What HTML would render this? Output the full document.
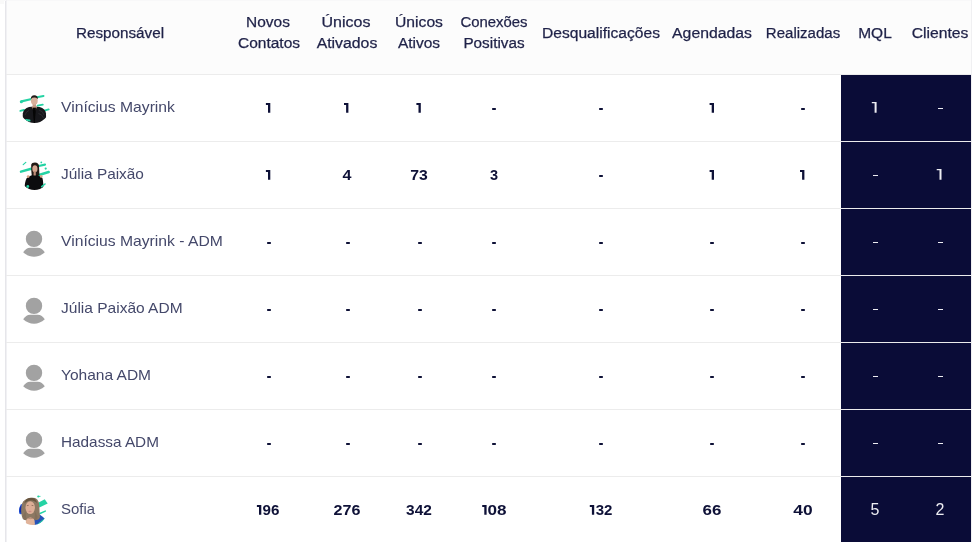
<!DOCTYPE html><html><head><meta charset="utf-8"><style>
html,body{margin:0;padding:0;width:972px;height:542px;overflow:hidden;background:#fff;}
body{position:relative;font-family:"Liberation Sans",sans-serif;}
.h,.n,.v,.w{will-change:transform;}
.a{position:absolute;}
.h{position:absolute;color:#1f2248;-webkit-text-stroke:0.25px #1f2248;font-size:14px;line-height:21px;white-space:nowrap;text-align:center;width:200px;}
.n{position:absolute;color:#44486a;font-size:15px;line-height:20px;white-space:nowrap;transform-origin:0 50%;}
.v{position:absolute;color:#0e1137;font-size:14px;font-weight:bold;line-height:20px;white-space:nowrap;text-align:center;width:60px;}
.w{position:absolute;color:#ededf2;font-size:16px;line-height:20px;white-space:nowrap;text-align:center;width:60px;}
</style></head><body>
<div class="a" style="left:6px;top:0;width:966px;height:74px;background:#fcfcfc"></div><div class="a" style="left:841px;top:75px;width:130px;height:467px;background:#0a0c37"></div><div class="a" style="left:5px;top:0;width:1px;height:542px;background:#e6e6ea"></div><div class="a" style="left:0;top:0;width:972px;height:1px;background:#f8f8f9"></div><div class="a" style="left:0;top:0;width:4px;height:4px;background:#f9f9f9"></div><div class="a" style="left:6px;top:0;width:1px;height:542px;background:#f1f1f4"></div><div class="a" style="left:971px;top:0;width:1px;height:542px;background:#f0f0f2"></div><div class="a" style="left:6px;top:74px;width:965px;height:1px;background:#ececec"></div><div class="a" style="left:6px;top:141px;width:965px;height:1px;background:#ececec"></div><div class="a" style="left:6px;top:208px;width:965px;height:1px;background:#ececec"></div><div class="a" style="left:6px;top:275px;width:965px;height:1px;background:#ececec"></div><div class="a" style="left:6px;top:342px;width:965px;height:1px;background:#ececec"></div><div class="a" style="left:6px;top:409px;width:965px;height:1px;background:#ececec"></div><div class="a" style="left:6px;top:476px;width:965px;height:1px;background:#ececec"></div><div class="h" id="h0" style="left:20.40px;top:23px;transform:scaleX(1.0876)">Responsável</div><div class="h" id="h1a" style="left:167.85px;top:12px;transform:scaleX(1.1041)">Novos</div><div class="h" id="h1b" style="left:169.00px;top:33px;transform:scaleX(1.1076)">Contatos</div><div class="h" id="h2a" style="left:246.35px;top:12px;transform:scaleX(1.1434)">Únicos</div><div class="h" id="h2b" style="left:246.50px;top:33px;transform:scaleX(1.1299)">Ativados</div><div class="h" id="h3a" style="left:319.05px;top:12px;transform:scaleX(1.1193)">Únicos</div><div class="h" id="h3b" style="left:319.05px;top:33px;transform:scaleX(1.1059)">Ativos</div><div class="h" id="h4a" style="left:393.55px;top:12px;transform:scaleX(1.0640)">Conexões</div><div class="h" id="h4b" style="left:394.25px;top:33px;transform:scaleX(1.0910)">Positivas</div><div class="h" id="h5" style="left:501.45px;top:23px;transform:scaleX(1.1143)">Desqualificações</div><div class="h" id="h6" style="left:612.00px;top:23px;transform:scaleX(1.1269)">Agendadas</div><div class="h" id="h7" style="left:702.85px;top:23px;transform:scaleX(1.0737)">Realizadas</div><div class="h" id="h8" style="left:774.80px;top:23px;transform:scaleX(1.1068)">MQL</div><div class="h" id="h9" style="left:840.15px;top:23px;transform:scaleX(1.1207)">Clientes</div><div class="n" id="n0" style="left:61.00px;top:97px;transform:scaleX(1.0459)">Vinícius Mayrink</div><div class="a" style="left:492px;top:108px;width:4px;height:2px;border-radius:0.8px;background:#0e1137"></div><div class="a" style="left:599px;top:108px;width:4px;height:2px;border-radius:0.8px;background:#0e1137"></div><div class="a" style="left:801px;top:108px;width:4px;height:2px;border-radius:0.8px;background:#0e1137"></div><div class="a" style="left:938px;top:108px;width:5px;height:1px;background:#ededf2"></div><div class="n" id="n1" style="left:61.00px;top:164px;transform:scaleX(1.0250)">Júlia Paixão</div><div class="v" style="left:317.00px;top:165px;transform:scaleX(1.1486)">4</div><div class="v" style="left:389.20px;top:165px;transform:scaleX(1.1262)">73</div><div class="v" style="left:464.30px;top:165px;transform:scaleX(1.0385)">3</div><div class="a" style="left:599px;top:175px;width:4px;height:2px;border-radius:0.8px;background:#0e1137"></div><div class="a" style="left:873px;top:175px;width:5px;height:1px;background:#ededf2"></div><div class="n" id="n2" style="left:61.00px;top:231px;transform:scaleX(1.0455)">Vinícius Mayrink - ADM</div><div class="a" style="left:267px;top:242px;width:4px;height:2px;border-radius:0.8px;background:#0e1137"></div><div class="a" style="left:346px;top:242px;width:4px;height:2px;border-radius:0.8px;background:#0e1137"></div><div class="a" style="left:418px;top:242px;width:4px;height:2px;border-radius:0.8px;background:#0e1137"></div><div class="a" style="left:492px;top:242px;width:4px;height:2px;border-radius:0.8px;background:#0e1137"></div><div class="a" style="left:599px;top:242px;width:4px;height:2px;border-radius:0.8px;background:#0e1137"></div><div class="a" style="left:710px;top:242px;width:4px;height:2px;border-radius:0.8px;background:#0e1137"></div><div class="a" style="left:801px;top:242px;width:4px;height:2px;border-radius:0.8px;background:#0e1137"></div><div class="a" style="left:873px;top:242px;width:5px;height:1px;background:#ededf2"></div><div class="a" style="left:938px;top:242px;width:5px;height:1px;background:#ededf2"></div><div class="n" id="n3" style="left:61.00px;top:298px;transform:scaleX(1.0343)">Júlia Paixão ADM</div><div class="a" style="left:267px;top:309px;width:4px;height:2px;border-radius:0.8px;background:#0e1137"></div><div class="a" style="left:346px;top:309px;width:4px;height:2px;border-radius:0.8px;background:#0e1137"></div><div class="a" style="left:418px;top:309px;width:4px;height:2px;border-radius:0.8px;background:#0e1137"></div><div class="a" style="left:492px;top:309px;width:4px;height:2px;border-radius:0.8px;background:#0e1137"></div><div class="a" style="left:599px;top:309px;width:4px;height:2px;border-radius:0.8px;background:#0e1137"></div><div class="a" style="left:710px;top:309px;width:4px;height:2px;border-radius:0.8px;background:#0e1137"></div><div class="a" style="left:801px;top:309px;width:4px;height:2px;border-radius:0.8px;background:#0e1137"></div><div class="a" style="left:873px;top:309px;width:5px;height:1px;background:#ededf2"></div><div class="a" style="left:938px;top:309px;width:5px;height:1px;background:#ededf2"></div><div class="n" id="n4" style="left:60.70px;top:365px;transform:scaleX(1.0350)">Yohana ADM</div><div class="a" style="left:267px;top:376px;width:4px;height:2px;border-radius:0.8px;background:#0e1137"></div><div class="a" style="left:346px;top:376px;width:4px;height:2px;border-radius:0.8px;background:#0e1137"></div><div class="a" style="left:418px;top:376px;width:4px;height:2px;border-radius:0.8px;background:#0e1137"></div><div class="a" style="left:492px;top:376px;width:4px;height:2px;border-radius:0.8px;background:#0e1137"></div><div class="a" style="left:599px;top:376px;width:4px;height:2px;border-radius:0.8px;background:#0e1137"></div><div class="a" style="left:710px;top:376px;width:4px;height:2px;border-radius:0.8px;background:#0e1137"></div><div class="a" style="left:801px;top:376px;width:4px;height:2px;border-radius:0.8px;background:#0e1137"></div><div class="a" style="left:873px;top:376px;width:5px;height:1px;background:#ededf2"></div><div class="a" style="left:938px;top:376px;width:5px;height:1px;background:#ededf2"></div><div class="n" id="n5" style="left:61.00px;top:432px;transform:scaleX(1.0214)">Hadassa ADM</div><div class="a" style="left:267px;top:443px;width:4px;height:2px;border-radius:0.8px;background:#0e1137"></div><div class="a" style="left:346px;top:443px;width:4px;height:2px;border-radius:0.8px;background:#0e1137"></div><div class="a" style="left:418px;top:443px;width:4px;height:2px;border-radius:0.8px;background:#0e1137"></div><div class="a" style="left:492px;top:443px;width:4px;height:2px;border-radius:0.8px;background:#0e1137"></div><div class="a" style="left:599px;top:443px;width:4px;height:2px;border-radius:0.8px;background:#0e1137"></div><div class="a" style="left:710px;top:443px;width:4px;height:2px;border-radius:0.8px;background:#0e1137"></div><div class="a" style="left:801px;top:443px;width:4px;height:2px;border-radius:0.8px;background:#0e1137"></div><div class="a" style="left:873px;top:443px;width:5px;height:1px;background:#ededf2"></div><div class="a" style="left:938px;top:443px;width:5px;height:1px;background:#ededf2"></div><div class="n" id="n6" style="left:60.70px;top:499px;transform:scaleX(0.9960)">Sofia</div><div class="v" style="left:241.20px;top:500px;transform:scaleX(1.0831)">96</div><div class="v" style="left:316.70px;top:500px;transform:scaleX(1.1498)">276</div><div class="v" style="left:389.30px;top:500px;transform:scaleX(1.1023)">342</div><div class="v" style="left:466.85px;top:500px;transform:scaleX(1.2225)">08</div><div class="v" style="left:574.05px;top:500px;transform:scaleX(1.0736)">32</div><div class="v" style="left:682.10px;top:500px;transform:scaleX(1.2072)">66</div><div class="v" style="left:772.80px;top:500px;transform:scaleX(1.2406)">40</div><div class="w" style="left:845.40px;top:500px;transform:scaleX(1.0000)">5</div><div class="w" style="left:910.40px;top:500px;transform:scaleX(1.0000)">2</div><svg class="a" style="left:0;top:0" width="972" height="542" viewBox="0 0 972 542"><path d="M265.90 103.00 H270.30 V112.80 H268.00 V104.90 H265.90 Z" fill="#0e1137"/><path d="M344.00 103.00 H348.40 V112.80 H346.10 V104.90 H344.00 Z" fill="#0e1137"/><path d="M416.40 103.00 H420.80 V112.80 H418.50 V104.90 H416.40 Z" fill="#0e1137"/><path d="M709.60 103.00 H714.00 V112.80 H711.70 V104.90 H709.60 Z" fill="#0e1137"/><path d="M871.80 101.90 H876.60 V112.80 H874.60 V103.30 H871.80 Z" fill="#ededf2"/><path d="M265.90 170.00 H270.30 V179.80 H268.00 V171.90 H265.90 Z" fill="#0e1137"/><path d="M709.60 170.00 H714.00 V179.80 H711.70 V171.90 H709.60 Z" fill="#0e1137"/><path d="M800.00 170.00 H804.40 V179.80 H802.10 V171.90 H800.00 Z" fill="#0e1137"/><path d="M936.70 168.90 H941.50 V179.80 H939.50 V170.30 H936.70 Z" fill="#ededf2"/><path d="M256.90 505.00 H261.30 V514.80 H259.00 V506.90 H256.90 Z" fill="#0e1137"/><path d="M482.20 505.00 H486.60 V514.80 H484.30 V506.90 H482.20 Z" fill="#0e1137"/><path d="M589.80 505.00 H594.20 V514.80 H591.90 V506.90 H589.80 Z" fill="#0e1137"/></svg><svg class="a" style="left:14px;top:88px" width="40" height="40" viewBox="0 0 40 40">
<defs><clipPath id="c1"><circle cx="20.5" cy="20.5" r="14.5"/></clipPath></defs>
<g stroke="#25d3a4" stroke-linecap="round" fill="none">
<line x1="7.5" y1="13.4" x2="17.7" y2="11" stroke-width="2.2"/>
<circle cx="7.3" cy="13.8" r="1.5" fill="#25d3a4" stroke="none"/>
<line x1="22.9" y1="9.2" x2="29.5" y2="8" stroke-width="2"/>
<line x1="23.6" y1="17.7" x2="28.8" y2="16.6" stroke-width="1.8"/>
<line x1="6.3" y1="22.9" x2="10" y2="21.8" stroke-width="1.8"/>
<line x1="28.4" y1="23.2" x2="34.7" y2="21.4" stroke-width="1.8"/>
</g>
<g clip-path="url(#c1)">
<path d="M8.6 40 L8.8 25.5 Q9.5 20.5 15 19 L20.3 18.4 L25.6 19 Q31.5 20.5 32 25.5 L32.2 40 Z" fill="#17171b"/>
<path d="M25 22 Q29 23 30 27 M24.5 25.5 Q28.5 26.5 29.6 30 M11 27 Q12 23.5 15 22.5" stroke="#34343a" stroke-width="0.7" fill="none"/>
<path d="M17.5 18.8 L20.3 24 L23.2 18.8 Z" fill="#c8967c"/>
<path d="M18.6 19.5 L20.3 40 L22 19.5 Z" fill="#050505"/>
<rect x="18.6" y="15.5" width="3.4" height="3.8" fill="#c49a86"/>
<ellipse cx="20.3" cy="12.6" rx="3.4" ry="4.3" fill="#d8b09c"/>
<line x1="11.8" y1="32" x2="15.5" y2="32.5" stroke="#25d3a4" stroke-width="2" stroke-linecap="round"/>
<path d="M16.8 11 Q16.8 7.2 20.3 7.2 Q23.9 7.2 23.9 11 Q22 9.5 20.3 9.6 Q18.5 9.5 16.8 11 Z" fill="#1e1a18"/>
</g>
</svg>
<svg class="a" style="left:14px;top:155px" width="40" height="40" viewBox="0 0 40 40">
<g stroke="#25d3a4" stroke-linecap="round" fill="none">
<line x1="7" y1="16.6" x2="17.3" y2="13.7" stroke-width="2.5"/>
<line x1="24.7" y1="11" x2="31" y2="9.6" stroke-width="2.2"/>
<line x1="25" y1="20" x2="34.7" y2="17" stroke-width="2.5"/>
<line x1="9.2" y1="9.6" x2="11.8" y2="7.4" stroke-width="1.2"/>
</g>

<path d="M17.2 9.8 Q17.8 7.4 21 7.4 Q24.6 7.6 25 11 L25.4 19.5 L23.8 21.2 L17.8 21.2 Q17 15 17.2 9.8 Z" fill="#221a15"/>
<defs><clipPath id="c2"><circle cx="20.5" cy="21" r="14"/></clipPath></defs>
<path clip-path="url(#c2)" d="M10.5 36 Q10.5 27 12.5 23.5 Q14 21 18 20.3 L23.5 20.3 Q27.5 21 28.5 23.5 Q29.5 27 29.5 36 Z" fill="#0c0c0e"/>
<circle cx="14.2" cy="21.6" r="1.4" fill="#d8a486"/>
<circle cx="27.2" cy="21.4" r="1.4" fill="#d8a486"/>
<ellipse cx="20.9" cy="13.8" rx="2.6" ry="3.5" fill="#d6a690"/>
<rect x="19.6" y="16" width="2.2" height="4.5" fill="#c0907a"/>
<g fill="#25d3a4"><circle cx="27.3" cy="7.4" r="0.9"/><circle cx="31.7" cy="13.6" r="1.1"/><circle cx="13.8" cy="31.5" r="1.4"/></g>
<line x1="27.7" y1="31.7" x2="31" y2="29" stroke="#25d3a4" stroke-width="1.6" stroke-linecap="round"/>
</svg>
<svg class="a" style="left:14px;top:490px" width="40" height="40" viewBox="0 0 40 40">
<defs><clipPath id="c3"><circle cx="18.8" cy="21.2" r="13.8"/></clipPath></defs>
<circle cx="24.3" cy="6.5" r="1.1" fill="#25d3a4"/>
<line x1="24.3" y1="6.4" x2="26.5" y2="6.4" stroke="#25d3a4" stroke-width="0.8"/>
<path d="M23.7 12.9 L30.7 9.3 L33.7 13.4 L25.4 17.6 Z" fill="#25d3a4"/>
<line x1="26" y1="23.5" x2="31.3" y2="21.1" stroke="#25d3a4" stroke-width="1.5" stroke-linecap="round"/>
<g clip-path="url(#c3)">
<ellipse cx="6.6" cy="19" rx="2.8" ry="5.2" fill="#1e4fd6"/>
<ellipse cx="6.9" cy="19.5" rx="1.3" ry="3.2" fill="#0f2cab"/>
<path d="M19 40 L20 24 Q25 23 29 27 L32 30 L32 40 Z" fill="#2652b8"/>
<path d="M17 40 Q24 33 33 26.5 L34 40 Z" fill="#25d3a4"/>
<path d="M8.6 28.5 C6 22 7 12.5 10.5 9.2 C13.5 6.5 20.5 6.3 23.3 9.6 C26.3 13.5 25 20 26 27 C25.5 29.5 23 30.5 21 29.5 L12.5 29.5 C10.5 30.5 9.2 29.8 8.6 28.5 Z" fill="#8c7862"/>
<path d="M10.4 13.5 C11.5 8.8 14 7.8 16.8 7.8 C20 7.8 22.2 9 23 13 C20.5 10.8 18.5 10.5 16.5 10.6 C14 10.8 12 11.8 10.4 13.5 Z" fill="#67553f"/>
<path d="M11.5 40 L12 30 C13.5 26.5 19 26.5 20.5 30 L21.5 40 Z" fill="#e0b39a"/>
<ellipse cx="16.2" cy="17.6" rx="4.7" ry="6.4" fill="#dcae96"/>
<path d="M8.8 26 C9.5 29.5 11 30.8 12.6 30 C12 27 11.6 24 11.6 21 Z" fill="#836f5a"/>
<path d="M23.6 26.5 C23.5 29.5 22 30.8 20.5 30.2 C21 27 21 24 20.8 21 Z" fill="#836f5a"/>
<ellipse cx="16" cy="21.5" rx="1.6" ry="0.8" fill="#cf8c86"/>
<path d="M12.8 15.6 L14.6 15.4 M17.6 15.4 L19.4 15.6" stroke="#7a5a4a" stroke-width="0.7"/>
<path d="M13.2 28 Q16.5 29.2 19.8 28" stroke="#9a7260" stroke-width="0.6" fill="none"/>
</g>
</svg>
<svg class="a" style="left:14px;top:222px" width="40" height="40" viewBox="0 0 40 40">
<circle cx="20" cy="16.90" r="8.2" fill="#a2a2a2"/>
<path d="M9.2 30.3 C11 27.6 13.2 25.9 16.2 25.8 L23.8 25.8 C26.8 25.9 29 27.6 30.8 30.3 C27.5 33.4 24 34.7 20 34.7 C16 34.7 12.5 33.4 9.2 30.3 Z" fill="#a2a2a2"/>
</svg>
<svg class="a" style="left:14px;top:289px" width="40" height="40" viewBox="0 0 40 40">
<circle cx="20" cy="16.90" r="8.2" fill="#a2a2a2"/>
<path d="M9.2 30.3 C11 27.6 13.2 25.9 16.2 25.8 L23.8 25.8 C26.8 25.9 29 27.6 30.8 30.3 C27.5 33.4 24 34.7 20 34.7 C16 34.7 12.5 33.4 9.2 30.3 Z" fill="#a2a2a2"/>
</svg>
<svg class="a" style="left:14px;top:356px" width="40" height="40" viewBox="0 0 40 40">
<circle cx="20" cy="16.90" r="8.2" fill="#a2a2a2"/>
<path d="M9.2 30.3 C11 27.6 13.2 25.9 16.2 25.8 L23.8 25.8 C26.8 25.9 29 27.6 30.8 30.3 C27.5 33.4 24 34.7 20 34.7 C16 34.7 12.5 33.4 9.2 30.3 Z" fill="#a2a2a2"/>
</svg>
<svg class="a" style="left:14px;top:423px" width="40" height="40" viewBox="0 0 40 40">
<circle cx="20" cy="16.90" r="8.2" fill="#a2a2a2"/>
<path d="M9.2 30.3 C11 27.6 13.2 25.9 16.2 25.8 L23.8 25.8 C26.8 25.9 29 27.6 30.8 30.3 C27.5 33.4 24 34.7 20 34.7 C16 34.7 12.5 33.4 9.2 30.3 Z" fill="#a2a2a2"/>
</svg></body></html>
